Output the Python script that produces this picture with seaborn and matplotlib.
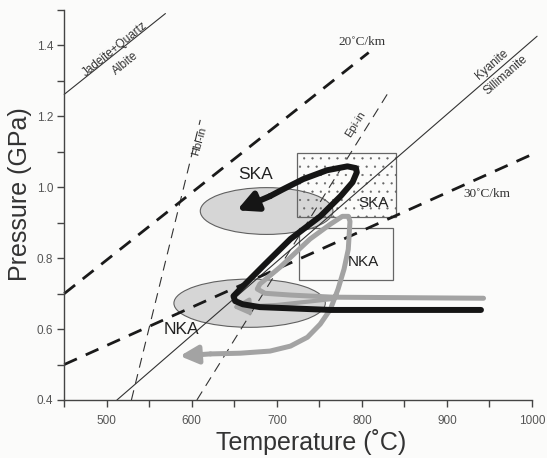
import matplotlib
matplotlib.use("Agg")
import matplotlib.pyplot as plt
import numpy as np
import pandas as pd
import seaborn as sns
from matplotlib.patches import Ellipse, Rectangle
from matplotlib.ticker import MultipleLocator

# ---------------- data ----------------
# SKA P-T path (black)
ska_T = [940, 763, 680, 660, 651, 649, 657, 686, 716, 751, 775, 789, 794, 793, 783, 759, 731, 707, 692]
ska_P = [0.654, 0.654, 0.662, 0.670, 0.679, 0.693, 0.713, 0.783, 0.854, 0.918, 0.975, 1.014, 1.042, 1.054, 1.059, 1.048, 1.023, 0.994, 0.975]
ska_tip = (653, 0.935)

# NKA P-T path (grey)
nka_T = [943, 766, 716, 686, 677, 680, 704, 739, 763, 777, 784, 786, 784, 779, 772, 763, 751, 736, 716, 692, 657, 622]
nka_P = [0.687, 0.690, 0.696, 0.701, 0.713, 0.727, 0.775, 0.854, 0.896, 0.918, 0.918, 0.904, 0.825, 0.769, 0.713, 0.656, 0.614, 0.577, 0.552, 0.538, 0.532, 0.530]
nka_tip = (586, 0.524)
nka_branch_T = [766, 700]
nka_branch_P = [0.685, 0.668]
nka_branch_tip = (647, 0.662)

# geotherms
g20_T = [450, 808]
g20_P = [0.70, 1.38]
g30_T = [450, 1005]
g30_P = [0.50, 1.098]

# reaction lines
jd_T = [450, 569]
jd_P = [1.262, 1.49]
ky_T = [512, 1006]
ky_P = [0.40, 1.426]
hbl_T = [529, 610]
hbl_P = [0.40, 1.19]
epi_T = [606, 831]
epi_P = [0.40, 1.267]

# field ellipses (SKA, NKA)
ell_T = [688, 668]
ell_P = [0.933, 0.673]
ell_w = [156, 178]
ell_h = [0.132, 0.136]

# boxes (SKA dotted, NKA)
box_T = [(723.5, 840.5), (726.5, 836.5)]
box_P = [(0.915, 1.098), (0.738, 0.886)]

x_ticks = [500, 600, 700, 800, 900, 1000]
y_ticks = [0.4, 0.6, 0.8, 1.0, 1.2, 1.4]

# ---------------- plotting ----------------
sns.set_theme(style="ticks")
plt.rcParams["font.family"] = ["Liberation Sans", "DejaVu Sans"]
plt.rcParams["hatch.color"] = "#8a8a8a"
plt.rcParams["hatch.linewidth"] = 0.35

fig = plt.figure(figsize=(5.47, 4.58), dpi=100)
fig.patch.set_facecolor("#fbfbfa")
ax = fig.add_axes([64.2 / 547, 58 / 458, 467.8 / 547, 390 / 458])
ax.set_facecolor("#fbfbfa")

# ellipses
for t, p, w, h in zip(ell_T, ell_P, ell_w, ell_h):
    ax.add_patch(Ellipse((t, p), w, h, facecolor="#d6d6d6", edgecolor="#606060", lw=0.8, zorder=1))

# boxes
ax.add_patch(Rectangle((box_T[0][0], box_P[0][0]), box_T[0][1] - box_T[0][0], box_P[0][1] - box_P[0][0],
                       facecolor="none", edgecolor="#666666", lw=0.9, hatch="..", zorder=1.5))
ax.add_patch(Rectangle((box_T[1][0], box_P[1][0]), box_T[1][1] - box_T[1][0], box_P[1][1] - box_P[1][0],
                       facecolor="none", edgecolor="#666666", lw=0.9, zorder=1.5))

thin = dict(color="#333333", lw=0.8, clip_on=False, zorder=2)
sns.lineplot(x=jd_T, y=jd_P, ax=ax, sort=False, estimator=None, **thin)
sns.lineplot(x=ky_T, y=ky_P, ax=ax, sort=False, estimator=None, **thin)
sns.lineplot(x=hbl_T, y=hbl_P, ax=ax, sort=False, estimator=None, linestyle=(0, (9, 6)), **thin)
sns.lineplot(x=epi_T, y=epi_P, ax=ax, sort=False, estimator=None, linestyle=(0, (9, 6)), **thin)

geo = dict(color="#1a1a1a", lw=2.0, clip_on=False, zorder=2.5, linestyle=(0, (5, 3.5)))
sns.lineplot(x=g20_T, y=g20_P, ax=ax, sort=False, estimator=None, **geo)
sns.lineplot(x=g30_T, y=g30_P, ax=ax, sort=False, estimator=None, **geo)

# grey NKA path
grey = "#a3a3a3"
sns.lineplot(x=nka_T, y=nka_P, ax=ax, sort=False, estimator=None, color=grey, lw=3.6,
             solid_capstyle="round", solid_joinstyle="round", zorder=3)
ax.annotate("", xy=nka_tip, xytext=(nka_T[-1], nka_P[-1]),
            arrowprops=dict(arrowstyle="-|>,head_length=0.9,head_width=0.45", color=grey, lw=3.6,
                            shrinkA=0, shrinkB=0), zorder=3)
sns.lineplot(x=nka_branch_T, y=nka_branch_P, ax=ax, sort=False, estimator=None, color=grey, lw=3.0,
             solid_capstyle="round", zorder=3)
ax.annotate("", xy=nka_branch_tip, xytext=(nka_branch_T[-1], nka_branch_P[-1]),
            arrowprops=dict(arrowstyle="-|>,head_length=0.8,head_width=0.4", color=grey, lw=3.0,
                            shrinkA=0, shrinkB=0), zorder=3)

# black SKA path
sns.lineplot(x=ska_T, y=ska_P, ax=ax, sort=False, estimator=None, color="#151515", lw=4.3,
             solid_capstyle="round", solid_joinstyle="round", zorder=4)
ax.annotate("", xy=ska_tip, xytext=(ska_T[-1], ska_P[-1]),
            arrowprops=dict(arrowstyle="-|>,head_length=1.0,head_width=0.5", color="#151515", lw=4.3,
                            shrinkA=0, shrinkB=0), zorder=4)

# ---------------- text ----------------
small = dict(color="#333333", ha="center", va="center", fontsize=8.5)
ax.text(510, 1.388, "Jadeite+Quartz", rotation=39, **small)
ax.text(522, 1.349, "Albite", rotation=39, **small)
ax.text(953, 1.346, "Kyanite", rotation=41, **small)
ax.text(969, 1.316, "Sillimanite", rotation=41, **small)
ax.text(609, 1.13, "Hbl-in", rotation=74, color="#333333", ha="center", va="center", fontsize=8)
ax.text(793, 1.177, "Epi-in", rotation=58, color="#333333", ha="center", va="center", fontsize=8)
ax.text(800, 1.41, "20˚C/km", fontsize=9.5, color="#333333", ha="center", va="center",
        family=["Liberation Serif", "DejaVu Serif"])
ax.text(947, 0.98, "30˚C/km", fontsize=9.5, color="#333333", ha="center", va="center",
        family=["Liberation Serif", "DejaVu Serif"])
ax.text(674.5, 1.037, "SKA", fontsize=12.5, color="#222222", ha="center", va="center")
ax.text(588, 0.60, "NKA", fontsize=12.5, color="#222222", ha="center", va="center")
ax.text(814, 0.957, "SKA", fontsize=11, color="#222222", ha="center", va="center")
ax.text(802, 0.788, "NKA", fontsize=11, color="#222222", ha="center", va="center")

# ---------------- axes ----------------
ax.set_xlim(450, 1000)
ax.set_ylim(0.4, 1.5)
ax.set_xticks(x_ticks)
ax.set_yticks(y_ticks)
ax.set_xticklabels([str(v) for v in x_ticks])
ax.set_yticklabels([f"{v:.1f}" for v in y_ticks])
ax.xaxis.set_minor_locator(MultipleLocator(50))
ax.yaxis.set_minor_locator(MultipleLocator(0.1))
ax.tick_params(which="both", direction="out", length=5, width=1, color="#444444",
               labelsize=8.5, labelcolor="#555555")
ax.tick_params(axis="x", pad=6)
ax.tick_params(axis="y", pad=3)
sns.despine(ax=ax)
for s in ["left", "bottom"]:
    ax.spines[s].set_color("#444444")
    ax.spines[s].set_linewidth(1.0)
ax.set_xlabel("Temperature (˚C)", fontsize=18, color="#333333")
ax.set_ylabel("Pressure (GPa)", fontsize=18, color="#333333")
ax.xaxis.set_label_coords(0.527, -0.075)
ax.yaxis.set_label_coords(-0.068, 0.527)
ax.grid(False)

fig.savefig("out.png", dpi=100)
